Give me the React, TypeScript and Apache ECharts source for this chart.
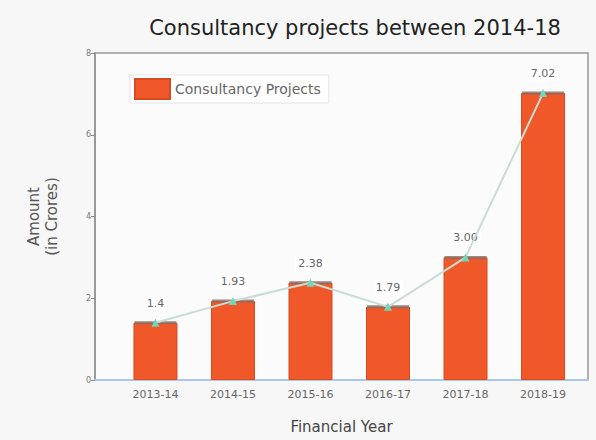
import React, { useEffect, useRef } from "react";
import * as echarts from "echarts";

const categories = ["2013-14", "2014-15", "2015-16", "2016-17", "2017-18", "2018-19"];
const amounts = [1.4, 1.93, 2.38, 1.79, 3.0, 7.02];
const valueLabels = ["1.4", "1.93", "2.38", "1.79", "3.00", "7.02"];
const yTicks = [0, 2, 4, 6, 8];

export default function App() {
  const ref = useRef<HTMLDivElement>(null);
  useEffect(() => {
    document.body.style.margin = "0";
    if (!ref.current) return;
    const chart = echarts.init(ref.current, null, { renderer: "svg" });
    const font = "DejaVu Sans";
    chart.setOption({
      animation: false,
      backgroundColor: "#f7f7f7",
      textStyle: { fontFamily: font },
      title: {
        text: "Consultancy projects between 2014-18",
        left: 350,
        top: 12,
        textAlign: "center",
        textStyle: { fontFamily: font, fontSize: 21, fontWeight: "normal", color: "#222" },
      },
      legend: {
        left: 130,
        top: 75,
        icon: "rect",
        itemWidth: 35,
        itemHeight: 20,
        itemGap: 6,
        padding: [3, 8, 3, 4],
        backgroundColor: "#ffffff",
        borderColor: "#e4e4e4",
        borderWidth: 1,
        data: ["Consultancy Projects"],
        textStyle: { fontFamily: font, fontSize: 14, color: "#666" },
      },
      grid: {
        left: 95,
        right: 8,
        top: 53,
        bottom: 60,
        outerBoundsMode: "none",
        containLabel: false,
        show: true,
        backgroundColor: "#fbfbfb",
        borderColor: "#999999",
        borderWidth: 1.5,
      },
      xAxis: {
        type: "value",
        min: -0.78,
        max: 5.58,
        splitLine: { show: false },
        axisLine: { show: true, onZero: false, lineStyle: { color: "#a9c8ec", width: 2 } },
        axisTick: { show: false },
        axisLabel: {
          fontFamily: font,
          fontSize: 11,
          color: "#666",
          margin: 9,
          hideOverlap: false,
          customValues: [0, 1, 2, 3, 4, 5],
          formatter: (v: number) => categories[Math.round(v)] ?? "",
        },
        name: "Financial Year",
        nameLocation: "middle",
        nameGap: 39,
        nameTextStyle: { fontFamily: font, fontSize: 15, color: "#444" },
      },
      yAxis: {
        type: "value",
        min: 0,
        max: 8,
        interval: 2,
        splitLine: { show: false },
        axisLine: { show: true, onZero: false, lineStyle: { color: "#999", width: 2 } },
        axisTick: { show: true, inside: false, length: 4, lineStyle: { color: "#888" } },
        axisLabel: {
          fontFamily: font,
          fontSize: 8,
          color: "#777",
          margin: 4,
          formatter: (v: number) => (yTicks.includes(v) ? String(v) : ""),
        },
        name: "Amount\n(in Crores)",
        nameLocation: "middle",
        nameGap: 34,
        nameRotate: 90,
        nameTextStyle: { fontFamily: font, fontSize: 15, color: "#555", lineHeight: 18 },
      },
      series: [
        {
          name: "Consultancy Projects",
          type: "bar",
          barWidth: 44,
          data: amounts.map((v, i) => [i, v]),
          itemStyle: { color: "#f0582a", borderColor: "#d84a20", borderWidth: 1 },
          label: {
            show: true,
            position: "top",
            distance: 12,
            formatter: (p: any) => valueLabels[p.dataIndex],
            fontFamily: font,
            fontSize: 11,
            color: "#666",
            backgroundColor: "rgba(255,255,255,0.85)",
            padding: [2, 3],
          },
          z: 2,
        },
        {
          name: "caps",
          type: "scatter",
          data: amounts.map((v, i) => [i, v]),
          symbol: "rect",
          symbolSize: [42, 3],
          itemStyle: { color: "#8a6a60" },
          z: 3,
        },
        {
          name: "trend",
          type: "line",
          data: amounts.map((v, i) => [i, v]),
          lineStyle: { color: "#c8ddd4", width: 2 },
          symbol: "triangle",
          symbolSize: 8,
          itemStyle: { color: "#6fd8b8" },
          label: { show: false },
          z: 4,
        },
      ],
    });
    return () => chart.dispose();
  }, []);
  return <div ref={ref} style={{ width: 596, height: 440 }} />;
}
